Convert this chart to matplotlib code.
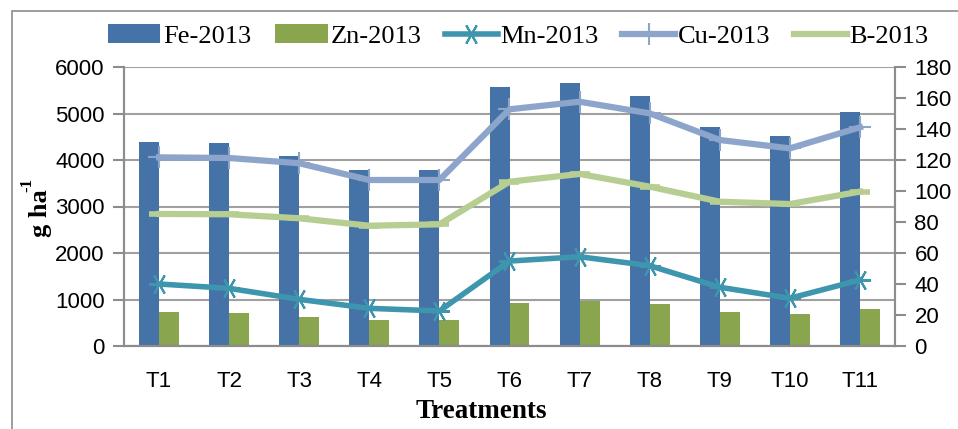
import numpy as np
import matplotlib.pyplot as plt
from matplotlib.patches import Rectangle

# Datos
treatments = ['T1', 'T2', 'T3', 'T4', 'T5', 'T6', 'T7', 'T8', 'T9', 'T10', 'T11']
fe_2013 = [4390, 4370, 4095, 3780, 3790, 5565, 5665, 5375, 4705, 4525, 5025]
zn_2013 = [730, 710, 625, 565, 565, 930, 975, 905, 725, 680, 795]
mn_2013 = [40.0, 37.2, 30.1, 24.3, 22.6, 54.8, 57.6, 51.8, 37.9, 30.8, 42.6]
cu_2013 = [121.7, 121.3, 117.9, 107.1, 107.1, 152.7, 157.6, 150.1, 132.9, 127.5, 141.1]
b_2013 = [85.2, 85.0, 82.4, 77.6, 78.5, 106.0, 111.0, 102.8, 93.1, 91.6, 99.6]

c_fe = '#4572A7'
c_zn = '#89A54E'
c_mn = '#3D96AE'
c_cu = '#8EA5CB'
c_b = '#B7CE92'
c_axis = '#8C8C8C'

fig = plt.figure(figsize=(9.58, 4.29), dpi=100)
ax = fig.add_axes([124/958, 1-346/429, (895-124)/958, (346-67)/429])
ax2 = ax.twinx()

x = np.arange(len(treatments))
w = 0.285
ax.bar(x - w/2, fe_2013, w, color=c_fe, label='Fe-2013', zorder=2)
ax.bar(x + w/2, zn_2013, w, color=c_zn, label='Zn-2013', zorder=2)

ax2.plot(x, mn_2013, color=c_mn, lw=4, marker=(6, 2, 90), ms=15, mew=1.5,
         label='Mn-2013')
ax2.plot(x, cu_2013, color=c_cu, lw=4.5, marker='+', ms=16, mew=1.5,
         label='Cu-2013')
ax2.plot(x, b_2013, color=c_b, lw=4.5, marker='_', ms=14, mew=4,
         label='B-2013')

ax.set_xlim(-0.5, len(treatments) - 0.5)
ax.set_ylim(0, 6000)
ax.set_yticks(np.arange(0, 6001, 1000))
ax2.set_ylim(0, 180)
ax2.set_yticks(np.arange(0, 181, 20))
ax.set_xticks(x)
ax.set_xticklabels(treatments)

ax.yaxis.grid(True, color='#A0A0A0', lw=1.5, zorder=0)
ax.set_axisbelow(True)

for a in (ax, ax2):
    for s in a.spines.values():
        s.set_color(c_axis)
        s.set_linewidth(1.5)
    a.spines['top'].set_visible(False)

ax.tick_params(axis='y', length=8, width=1.5, color=c_axis, pad=6)
ax.tick_params(axis='x', length=0, pad=18)
ax2.tick_params(axis='y', length=8, width=1.5, color=c_axis, pad=6)
for lab in ax.get_yticklabels() + ax.get_xticklabels() + ax2.get_yticklabels():
    lab.set_fontfamily('Liberation Sans')
    lab.set_fontsize(16)

# etiqueta del eje y con superindice -1
fig.text(40/958, 1-213/429, 'g ha', rotation=90, ha='center', va='center',
         fontfamily='Liberation Serif', fontweight='bold', fontsize=19)
fig.text(27/958, 1-185/429, '-1', rotation=90, ha='center', va='center',
         fontfamily='Liberation Serif', fontweight='bold', fontsize=12)
fig.text(481/958, 1-412/429, 'Treatments', ha='center', va='center',
         fontfamily='Liberation Serif', fontweight='bold', fontsize=19.5)

h1, l1 = ax.get_legend_handles_labels()
h2, l2 = ax2.get_legend_handles_labels()
fig.legend(h1 + h2, l1 + l2, loc='center', bbox_to_anchor=(518/958, 1-36/429),
           ncol=5, frameon=False, prop={'family': 'Liberation Serif', 'size': 19},
           handlelength=2.0, handletextpad=0.1, columnspacing=0.9)

# marco exterior del grafico
fig.patches.append(Rectangle((12/958, -0.1), 1.1, 1-11/429 + 0.1,
                             transform=fig.transFigure, fill=False,
                             edgecolor='#8C8C8C', lw=1.2))

fig.savefig('out.png', dpi=100)
